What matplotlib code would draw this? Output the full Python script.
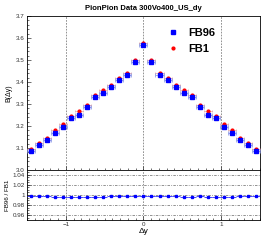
import numpy as np
import matplotlib
matplotlib.use("Agg")
import matplotlib.pyplot as plt
from matplotlib.ticker import MultipleLocator

# ----------------------------
# DATA
# ----------------------------
n_bins = 29
x_lo, x_hi = -1.5, 1.5

fb96 = [3.088, 3.115, 3.138, 3.168, 3.197, 3.235, 3.252, 3.287, 3.333, 3.352,
        3.378, 3.410, 3.432, 3.493, 3.570,
        3.493, 3.433, 3.410, 3.378, 3.352, 3.333, 3.288, 3.252, 3.235, 3.197,
        3.168, 3.138, 3.115, 3.088]
fb1 = [3.097, 3.124, 3.147, 3.181, 3.207, 3.245, 3.268, 3.297, 3.343, 3.362,
       3.385, 3.417, 3.439, 3.500, 3.577,
       3.500, 3.440, 3.417, 3.385, 3.362, 3.343, 3.297, 3.268, 3.245, 3.207,
       3.181, 3.147, 3.124, 3.097]
err96 = 0.004
err1 = 0.004

title = "PionPion Data 300Vo400_US_dy"

# ----------------------------
# FIGURE
# ----------------------------
plt.rcParams["font.family"] = ["Liberation Sans", "DejaVu Sans"]

edges = np.linspace(x_lo, x_hi, n_bins + 1)
xc = 0.5 * (edges[:-1] + edges[1:])
half = 0.5 * (edges[1] - edges[0])
b96 = np.array(fb96)
b1 = np.array(fb1)
ratio = b96 / b1
ratio_err = ratio * np.sqrt((err96 / b96) ** 2 + (err1 / b1) ** 2)

fig = plt.figure(figsize=(2.66, 2.42), dpi=100)
ax = fig.add_axes([0.1015, 0.2975, 0.8755, 0.6365])
axr = fig.add_axes([0.1015, 0.091, 0.8755, 0.2065], sharex=ax)

ax.errorbar(xc, b1, xerr=half, yerr=err1, fmt="o", color="red", ms=2.0,
            elinewidth=0.4, capsize=1.0, capthick=0.4, ecolor="#e09090", zorder=3)
ax.errorbar(xc, b96, xerr=half, yerr=err96, fmt="s", color="blue", ms=2.2,
            elinewidth=0.5, capsize=1.2, capthick=0.5, ecolor="#8090e0", zorder=4)
ax.plot([], [], "s", color="blue", ms=2.2, label="FB96")
ax.plot([], [], "o", color="red", ms=2.0, label="FB1")

for xv in (-1, 0, 1):
    ax.axvline(xv, color="gray", ls=(0, (2, 1.5)), lw=0.6, zorder=1)
    axr.axvline(xv, color="gray", ls=(0, (2, 1.5)), lw=0.6, zorder=1)

ax.set_xlim(x_lo, x_hi)
ax.set_ylim(3.0, 3.7)
ax.yaxis.set_major_locator(MultipleLocator(0.1))
ax.yaxis.set_minor_locator(MultipleLocator(0.02))
ax.xaxis.set_major_locator(MultipleLocator(1))
ax.xaxis.set_minor_locator(MultipleLocator(0.1))
ax.tick_params(axis="x", labelbottom=False)
ax.set_ylabel("B(\u0394y)", fontsize=5, labelpad=3)
ax.set_title(title, fontsize=5.5, fontweight="bold", pad=4)

leg = ax.legend(loc="upper left", bbox_to_anchor=(0.56, 0.99), frameon=False,
                fontsize=8, handletextpad=0.9, labelspacing=0.55, handlelength=1.0)
for t in leg.get_texts():
    t.set_fontweight("bold")

# ratio pad
for yv in (0.96, 0.98, 1.0, 1.02, 1.04):
    axr.axhline(yv, color="gray", ls=(0, (3, 1.5, 1, 1.5)), lw=0.6, zorder=1)
axr.errorbar(xc, ratio, xerr=half, yerr=ratio_err, fmt="s", color="blue", ms=1.8,
             elinewidth=0.5, capsize=0, ecolor="blue", zorder=3)
axr.set_ylim(0.951, 1.049)
axr.set_yticks([0.96, 0.98, 1.0, 1.02, 1.04])
axr.set_yticklabels(["0.96", "0.98", "1", "1.02", "1.04"])
axr.yaxis.set_minor_locator(MultipleLocator(0.005))
axr.set_xticks([-1, 0, 1])
axr.set_xticklabels(["\u22121", "0", "1"])
axr.set_xlabel("\u0394y", fontsize=6, labelpad=1)
axr.set_ylabel("FB96 / FB1", fontsize=4.5, labelpad=2)

for a in (ax, axr):
    a.tick_params(which="both", direction="in", top=False, right=False,
                  labelsize=4.5, labelcolor="#333333", width=0.4, pad=1.5)
    a.tick_params(which="major", length=3)
    a.tick_params(which="minor", length=1.5)
    for s in a.spines.values():
        s.set_linewidth(0.6)

fig.savefig("out.png", dpi=100)
